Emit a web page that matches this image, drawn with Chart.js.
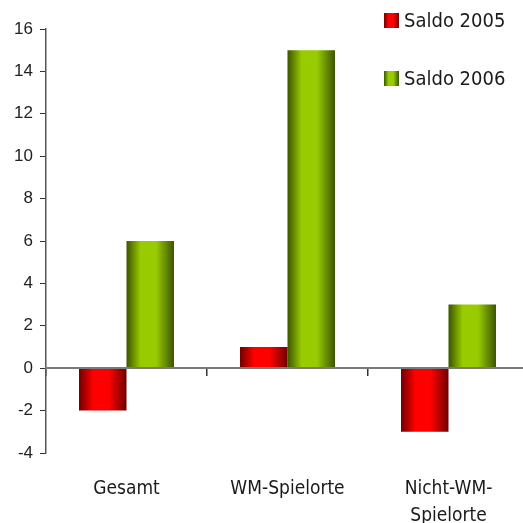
<!DOCTYPE html>
<html lang="de">
<head>
    <meta charset="UTF-8">
    <title>Saldo 2005 / 2006</title>
    <script src="https://cdn.jsdelivr.net/npm/chart.js"></script>
    <style>
        body {
            margin: 0;
            background-color: #fff;
        }
        .wrap {
            position: relative;
            width: 523px;
            height: 523px;
            overflow: hidden;
        }
        .legend {
            position: absolute;
            left: 384px;
            font-family: 'DejaVu Sans Condensed', 'DejaVu Sans', sans-serif;
            font-stretch: condensed;
            font-size: 20px;
            color: #1a1a1a;
            line-height: 20px;
            white-space: nowrap;
        }
        .legend span.box {
            display: inline-block;
            width: 15px;
            height: 15px;
            margin-right: 5px;
            vertical-align: -1px;
        }
    </style>
</head>
<body>
    <div class="wrap">
        <!-- plot runs a little past the right edge, so the canvas is wider than the frame -->
        <canvas id="saldoChart" width="529" height="523"></canvas>
        <div class="legend" style="top: 10px;">
            <span class="box" style="background: linear-gradient(to right, #700000, #ff0000 30%, #ff0000 62%, #700000);"></span>Saldo 2005
        </div>
        <div class="legend" style="top: 68px;">
            <span class="box" style="background: linear-gradient(to right, #3c5400, #99cc00 30%, #99cc00 62%, #3c5400);"></span>Saldo 2006
        </div>
    </div>

    <script>
        const categories = ['Gesamt', 'WM-Spielorte', ['Nicht-WM-', 'Spielorte']];
        const saldo2005 = [-2, 1, -3];
        const saldo2006 = [6, 15, 3];
        const yTicks = [-4, -2, 0, 2, 4, 6, 8, 10, 12, 14, 16];

        const CAT_PCT = 0.59;
        const BAR_PCT = 1;

        // horizontal "cylinder" shading per bar: dark edges, bright middle
        function barShade(edge, mid) {
            return function (ctx) {
                const chart = ctx.chart;
                const x = chart.scales.x;
                if (ctx.dataIndex === undefined || !x || !x.width) {
                    return mid;
                }
                const catW = x.width / categories.length;
                const barW = catW * CAT_PCT * BAR_PCT / 2;
                const center = x.getPixelForValue(ctx.dataIndex) + (ctx.datasetIndex - 0.5) * barW;
                const g = chart.ctx.createLinearGradient(center - barW / 2, 0, center + barW / 2, 0);
                g.addColorStop(0, edge);
                g.addColorStop(0.3, mid);
                g.addColorStop(0.62, mid);
                g.addColorStop(1, edge);
                return g;
            };
        }

        const ctx = document.getElementById('saldoChart').getContext('2d');
        new Chart(ctx, {
            type: 'bar',
            data: {
                labels: categories,
                datasets: [{
                    label: 'Saldo 2005',
                    data: saldo2005,
                    backgroundColor: barShade('#700000', '#ff0000'),
                    borderWidth: 0
                }, {
                    label: 'Saldo 2006',
                    data: saldo2006,
                    backgroundColor: barShade('#3c5400', '#99cc00'),
                    borderWidth: 0
                }]
            },
            options: {
                responsive: false,
                animation: false,
                categoryPercentage: CAT_PCT,
                barPercentage: BAR_PCT,
                layout: {
                    padding: { top: 29, right: 0, bottom: 0, left: 0 }
                },
                plugins: {
                    legend: { display: false },
                    tooltip: { enabled: false }
                },
                scales: {
                    x: {
                        position: 'bottom',
                        grid: { display: false },
                        border: { display: false },
                        ticks: {
                            padding: 14,
                            color: '#1a1a1a',
                            maxRotation: 0,
                            autoSkip: false,
                            font: { family: "'DejaVu Sans Condensed', 'DejaVu Sans', sans-serif", size: 19, lineHeight: 1.45 }
                        },
                        afterFit(scale) { scale.height = 70; }
                    },
                    // zero line with the category separators hanging below it
                    x2: {
                        type: 'category',
                        axis: 'x',
                        position: { y: 0 },
                        offset: true,
                        grid: {
                            offset: true,
                            drawOnChartArea: false,
                            tickLength: 7,
                            color: '#333',
                            lineWidth: 1.5
                        },
                        border: { color: '#7a7a7a', width: 2, z: 1 },
                        ticks: { display: false },
                        afterFit(scale) { scale.height = 0; }
                    },
                    y: {
                        min: yTicks[0],
                        max: yTicks[yTicks.length - 1],
                        afterBuildTicks(scale) {
                            scale.ticks = yTicks.map(v => ({ value: v }));
                        },
                        grid: {
                            drawOnChartArea: false,
                            tickLength: 6,
                            color: '#333',
                            lineWidth: 1
                        },
                        border: { color: '#555', width: 1.5 },
                        ticks: {
                            padding: 7,
                            color: '#222',
                            font: { family: "'Liberation Sans', Arial, sans-serif", size: 17 }
                        },
                        afterFit(scale) { scale.width = 46; }
                    }
                }
            }
        });
    </script>
</body>
</html>
